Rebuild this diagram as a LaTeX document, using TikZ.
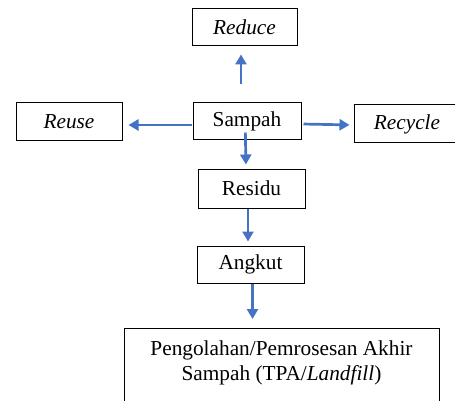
\documentclass[tikz,border=0pt]{standalone}
\usepackage{fontspec}
\setmainfont{Liberation Serif}
\usetikzlibrary{arrows.meta,positioning}
\definecolor{arrowblue}{HTML}{4472C4}

\begin{document}
\begin{tikzpicture}[x=1pt,y=-1pt,
    box/.style={draw,line width=1pt,inner sep=0pt,font=\fontsize{21.3}{25}\selectfont},
    arr/.style={draw=arrowblue,line width=2.7pt,-{Triangle[length=10pt,width=11pt]}}]
            \useasboundingbox (0,0) rectangle (455,401);
            \node[box, minimum width=108, minimum height=37](sampah) at (247,121.5){Sampah};
            \node[box, minimum width=105, minimum height=37](reduce) at (244.5,27.5){\textit{Reduce}};
            \node[box, minimum width=106, minimum height=38](reuse) at (69,122){\textit{Reuse}};
            \node[box, minimum width=106, minimum height=38](recycle) at (407,124){\textit{Recycle}};
            \node[box, minimum width=107, minimum height=39](residu) at (251.5,188.5){Residu};
            \node[box, minimum width=107, minimum height=37](angkut) at (250.5,264.5){Angkut};
            \node[box, minimum width=315, minimum height=82, anchor=north](akhir) at (281.5,328){};
            \node[box, draw=none, align=center, anchor=north](akhirtext) at (281.5,340.5)
                {Pengolahan/Pemrosesan Akhir\\Sampah (TPA/\textit{Landfill})};
            \draw[arr, shorten <=18pt, shorten >=8pt] ([xshift=-6pt]sampah.north) -- ([xshift=-3.5pt]reduce.south);
            \draw[arr, shorten <=1pt, shorten >=6pt] ([yshift=-3.5pt]sampah.west) -- ([yshift=-3pt]reuse.east);
            \draw[arr, shorten <=2pt, shorten >=4pt] ([yshift=-2.5pt]sampah.east) -- ([yshift=-1pt]recycle.west);
            \draw[arr, shorten <=-8pt, shorten >=4pt] ([xshift=-1.5pt]sampah.south) -- ([xshift=-5.5pt]residu.north);
            \draw[arr, shorten >=4pt] ([xshift=-3.5pt]residu.south) -- ([xshift=-2.5pt]angkut.north);
            \draw[arr, shorten >=9pt] ([xshift=2pt]angkut.south) -- ([xshift=-29pt]akhir.north);
        \end{tikzpicture}
\end{document}
